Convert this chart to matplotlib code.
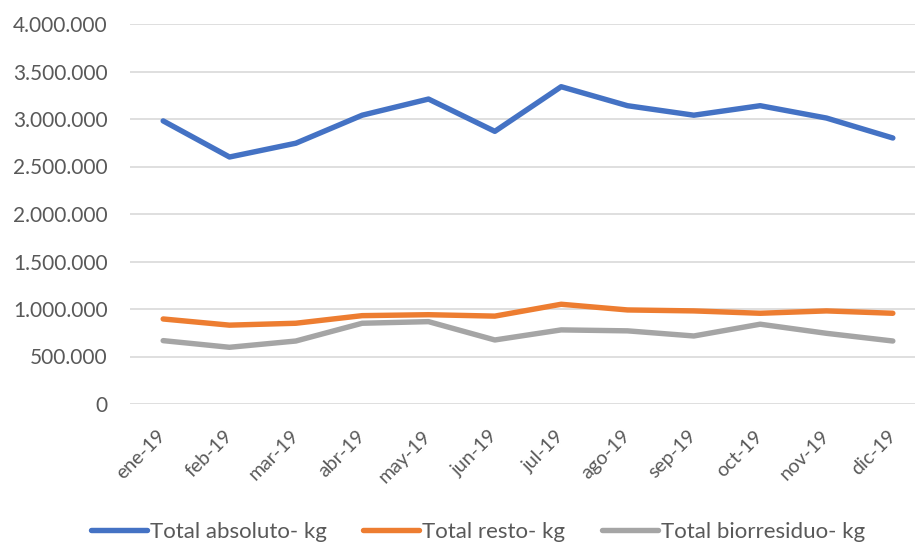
import matplotlib.pyplot as plt
from matplotlib.ticker import FuncFormatter, MultipleLocator

meses = ['ene-19', 'feb-19', 'mar-19', 'abr-19', 'may-19', 'jun-19',
         'jul-19', 'ago-19', 'sep-19', 'oct-19', 'nov-19', 'dic-19']
total_absoluto = [2980000, 2600000, 2745000, 3040000, 3210000, 2870000,
                  3340000, 3140000, 3040000, 3140000, 3010000, 2800000]
total_resto = [895000, 830000, 850000, 930000, 940000, 925000,
               1050000, 990000, 980000, 955000, 980000, 955000]
total_biorresiduo = [667000, 597000, 663000, 850000, 867000, 674000,
                     780000, 770000, 716000, 840000, 744000, 663000]

plt.rcParams['font.family'] = ['Lato', 'DejaVu Sans']
gris_texto = '#595959'

fig = plt.figure(figsize=(9.15, 5.42), dpi=100)
ax = fig.add_axes([130 / 915, 138 / 542, 796 / 915, 380 / 542])

x = range(len(meses))
estilo = dict(lw=3.9, solid_capstyle='round', solid_joinstyle='round')
ax.plot(x, total_absoluto, color='#4472C4', label='Total absoluto- kg', **estilo)
ax.plot(x, total_resto, color='#ED7D31', label='Total resto- kg', **estilo)
ax.plot(x, total_biorresiduo, color='#A5A5A5', label='Total biorresiduo- kg', **estilo)

ax.set_xlim(-0.5, len(meses) - 0.5)
ax.set_ylim(0, 4000000)
ax.yaxis.set_major_locator(MultipleLocator(500000))
ax.yaxis.set_major_formatter(FuncFormatter(lambda v, p: f'{int(v):,}'.replace(',', '.')))
ax.grid(axis='y', color='#D9D9D9', lw=1.2)
ax.set_axisbelow(True)
for s in ax.spines.values():
    s.set_visible(False)

ax.set_xticks(list(x))
ax.set_xticklabels(meses, rotation=45, ha='right', va='center',
                   rotation_mode='anchor')
ax.tick_params(axis='both', length=0, colors=gris_texto)
ax.tick_params(axis='y', pad=16, labelsize=15)
ax.tick_params(axis='x', pad=21, labelsize=14)

ax.legend(loc='center left', bbox_to_anchor=(91 / 915, 10 / 542),
          bbox_transform=fig.transFigure, ncol=3, frameon=False,
          fontsize=16, labelcolor=gris_texto, handlelength=2.5,
          handletextpad=0.15, columnspacing=1.65, borderaxespad=0, borderpad=0)

fig.savefig('out.png', dpi=100)
